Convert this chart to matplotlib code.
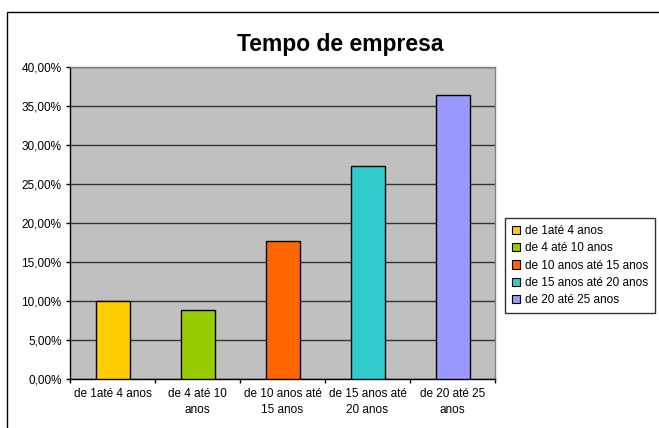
import numpy as np
import matplotlib
matplotlib.use('Agg')
from matplotlib import pyplot
from matplotlib.patches import Patch, Rectangle
from matplotlib.ticker import FuncFormatter, FixedLocator

pyplot.rcParams['font.family'] = ['Liberation Sans', 'DejaVu Sans']

# data
categories = ['de 1até 4 anos', 'de 4 até 10\nanos', 'de 10 anos até\n15 anos',
              'de 15 anos até\n20 anos', 'de 20 até 25\nanos']
legend_labels = ['de 1até 4 anos', 'de 4 até 10 anos', 'de 10 anos até 15 anos',
                 'de 15 anos até 20 anos', 'de 20 até 25 anos']
values = [10.0, 8.8, 17.7, 27.3, 36.4]
colors = ['#FFCC00', '#99CC00', '#FF6600', '#33CCCC', '#9999FF']

fs = 8.5

fig = pyplot.figure(figsize=(6.59, 4.28), dpi=100)
fig.patch.set_facecolor('white')

# outer chart frame (cut off at right/bottom like the reference)
fig.add_artist(Rectangle((7 / 659, -0.1), 1.0, 1 - 12 / 428 + 0.1,
                         transform=fig.transFigure, fill=False,
                         edgecolor='black', linewidth=1.0))

ax = fig.add_axes([70 / 659, 1 - 379 / 428, 425 / 659, 312 / 428])
ax.set_facecolor('#C0C0C0')

ind = np.arange(len(categories))
for i in ind:
    ax.bar(ind[i], values[i], width=0.4, color=colors[i], edgecolor='black',
           linewidth=1.0, label=legend_labels[i], zorder=3)

ax.set_xlim(-0.5, len(categories) - 0.5)
ax.set_ylim(0, 40)
ax.yaxis.set_major_locator(FixedLocator(np.arange(0, 40.1, 5)))
ax.yaxis.set_major_formatter(FuncFormatter(lambda v, p: ('%.2f%%' % v).replace('.', ',')))
ax.yaxis.grid(True, color='#333333', linewidth=1.0, zorder=1)

# category boundaries get ticks, labels sit at centres
ax.set_xticks(np.arange(-0.5, len(categories), 1.0))
ax.set_xticklabels([])
ax.set_xticks(ind, minor=True)
ax.set_xticklabels(categories, minor=True, fontsize=fs, linespacing=1.45)
ax.tick_params(axis='x', which='minor', length=0, pad=6.5)
ax.tick_params(axis='x', which='major', length=3, width=1, direction='out')
ax.tick_params(axis='y', length=3, width=1, direction='out', labelsize=fs, pad=3)

for side in ['top', 'right']:
    ax.spines[side].set_color('#808080')
    ax.spines[side].set_linewidth(1.0)
for side in ['left', 'bottom']:
    ax.spines[side].set_color('black')
    ax.spines[side].set_linewidth(1.0)

fig.text(340 / 659, 1 - 44 / 428, 'Tempo de empresa', ha='center', va='center',
         fontsize=16.5, fontweight='bold')

handles = [Patch(facecolor=c, edgecolor='black', linewidth=0.8) for c in colors]
leg = fig.legend(handles, legend_labels, loc='upper left',
                 bbox_to_anchor=(505 / 659, 1 - 218 / 428), fontsize=fs,
                 frameon=True, fancybox=False, edgecolor='black',
                 handlelength=0.7, handleheight=0.7, handletextpad=0.4,
                 labelspacing=0.45, borderpad=0.6, borderaxespad=0)
leg.get_frame().set_linewidth(1.0)

pyplot.savefig('out.png', dpi=100)
